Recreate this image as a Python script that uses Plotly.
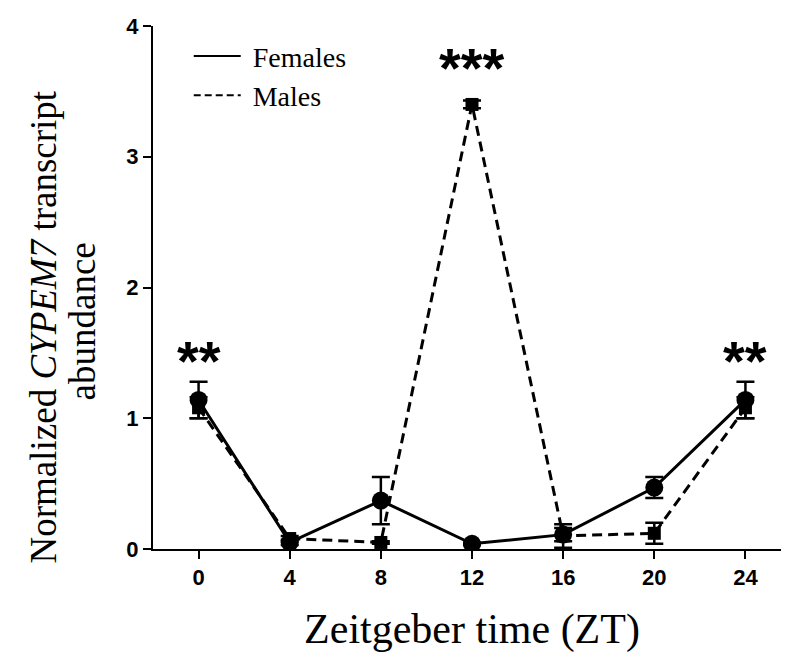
import plotly.graph_objects as go

zt = [0, 4, 8, 12, 16, 20, 24]
females = [1.14, 0.05, 0.37, 0.04, 0.11, 0.47, 1.14]
females_err = [0.14, 0.02, 0.18, 0.01, 0.05, 0.08, 0.14]
males = [1.08, 0.08, 0.05, 3.40, 0.10, 0.12, 1.08]
males_err = [0.08, 0.02, 0.01, 0.03, 0.09, 0.08, 0.08]
x_ticks = [0, 4, 8, 12, 16, 20, 24]
y_ticks = [0, 1, 2, 3, 4]
sig_x = [0, 12, 24]
sig_y = [1.44, 3.68, 1.44]
sig_text = ["**", "***", "**"]
y_title_lines = ["Normalized <i>CYPEM7</i> transcript", "abundance"]

fig = go.Figure()
fig.add_trace(go.Scatter(
    x=zt, y=males, mode="lines+markers", showlegend=False,
    line=dict(color="black", width=3, dash="10px,6px"),
    marker=dict(symbol="square", size=13, color="black"),
    error_y=dict(type="data", array=males_err, color="black", thickness=2.5, width=9),
))
fig.add_trace(go.Scatter(
    x=zt, y=females, mode="lines+markers", showlegend=False,
    line=dict(color="black", width=3),
    marker=dict(symbol="circle", size=18, color="black"),
    error_y=dict(type="data", array=females_err, color="black", thickness=2.5, width=9),
))
fig.add_trace(go.Scatter(x=[None], y=[None], mode="lines", name=" Females",
                         line=dict(color="black", width=2)))
fig.add_trace(go.Scatter(x=[None], y=[None], mode="lines", name=" Males",
                         line=dict(color="black", width=2, dash="7px,4px")))

for xs, ys, t in zip(sig_x, sig_y, sig_text):
    fig.add_annotation(x=xs, y=ys, text="<b>" + t + "</b>", showarrow=False,
                       font=dict(family="Liberation Sans", size=56, color="black"),
                       yanchor="middle")

for xp, yp, t in zip([-0.172, -0.109], [0.424, 0.436], y_title_lines):
    fig.add_annotation(xref="paper", yref="paper", x=xp, y=yp, xanchor="center",
                       yanchor="middle", textangle=-90, showarrow=False, text=t,
                       font=dict(family="Liberation Serif", size=37, color="black"))

fig.update_layout(
    width=789, height=654,
    margin=dict(l=145, r=6, t=18, b=113),
    paper_bgcolor="white", plot_bgcolor="white",
    font=dict(family="Liberation Serif", color="black"),
    legend=dict(x=0.056, y=0.99, xanchor="left", yanchor="top",
                font=dict(family="Liberation Serif", size=28, color="black"),
                itemwidth=47,
                bgcolor="rgba(0,0,0,0)", tracegroupgap=0),
    xaxis=dict(range=[-2, 26], tickvals=x_ticks, ticks="outside", ticklen=8,
               tickwidth=2, tickcolor="black", showline=True, linecolor="black",
               linewidth=2, showgrid=False, zeroline=False,
               tickfont=dict(family="Liberation Sans", size=22, color="black", weight="bold"),
               title=dict(text="Zeitgeber time (ZT)", standoff=24,
                          font=dict(family="Liberation Serif", size=42, color="black"))),
    yaxis=dict(range=[0, 4], tickvals=y_ticks, ticks="outside", ticklen=8,
               tickwidth=2, tickcolor="black", showline=True, linecolor="black",
               linewidth=2, showgrid=False, zeroline=False,
               tickfont=dict(family="Liberation Sans", size=22, color="black", weight="bold")),
)

fig.write_html("out.html")
